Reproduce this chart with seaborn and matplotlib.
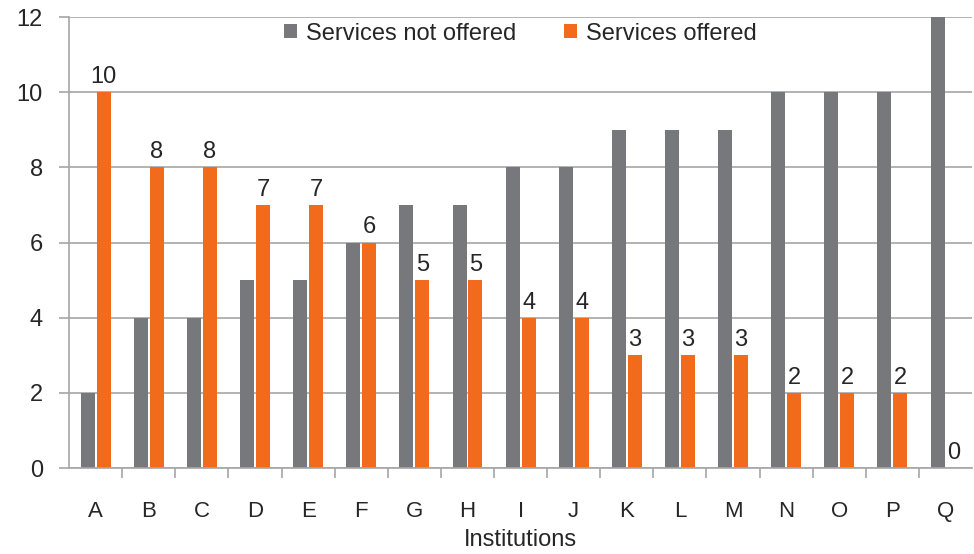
import numpy as np
import pandas as pd
import seaborn as sns
import matplotlib.pyplot as plt
from matplotlib.ticker import FixedLocator

institutions = list("ABCDEFGHIJKLMNOPQ")
not_offered = [2, 4, 4, 5, 5, 6, 7, 7, 8, 8, 9, 9, 9, 10, 10, 10, 12]
offered = [10, 8, 8, 7, 7, 6, 5, 5, 4, 4, 3, 3, 3, 2, 2, 2, 0]
series = ["Services not offered", "Services offered"]

df = pd.DataFrame({
    "institution": institutions * 2,
    "count": not_offered + offered,
    "series": [series[0]] * len(institutions) + [series[1]] * len(institutions),
})

sns.set_style("white")
plt.rcParams["font.family"] = ["Liberation Sans", "DejaVu Sans"]

fig = plt.figure(figsize=(9.74, 5.54), dpi=100)
ax = fig.add_axes([0.071, 0.155, 0.927, 0.814])

sns.barplot(data=df, x="institution", y="count", hue="series",
            palette=["#77787b", "#f26b1d"], width=0.6, gap=0.12,
            saturation=1, linewidth=0, ax=ax)

# labels above the orange bars
ax.bar_label(ax.containers[1], fontsize=17, padding=3)

ax.set_ylim(0, 12)
ax.set_xlim(-0.5, len(institutions) - 0.5)
ax.set_yticks(range(0, 13, 2))
ax.yaxis.grid(True, color="#a6a6a6", linewidth=1.2)
ax.set_axisbelow(True)

for s in ["top", "right"]:
    ax.spines[s].set_visible(False)
for s in ["left", "bottom"]:
    ax.spines[s].set_color("#a6a6a6")
    ax.spines[s].set_linewidth(1.2)

ax.tick_params(axis="y", length=7, width=1.2, color="#a6a6a6", pad=12, labelsize=17, left=True)
ax.tick_params(axis="x", which="major", length=0, pad=24, labelsize=16)
ax.xaxis.set_minor_locator(FixedLocator(np.arange(0.5, len(institutions) - 1, 1)))
ax.tick_params(axis="x", which="minor", length=7, width=1.2, color="#a6a6a6", bottom=True)

ax.set_xlabel("Institutions", fontsize=17, labelpad=5)
ax.set_ylabel("")

ax.legend(loc="upper center", bbox_to_anchor=(0.5, 1.035), ncol=2, frameon=False,
          fontsize=17, handlelength=0.55, handleheight=0.55, handletextpad=0.4,
          columnspacing=2.0, title=None)

fig.savefig("out.png", dpi=100)
